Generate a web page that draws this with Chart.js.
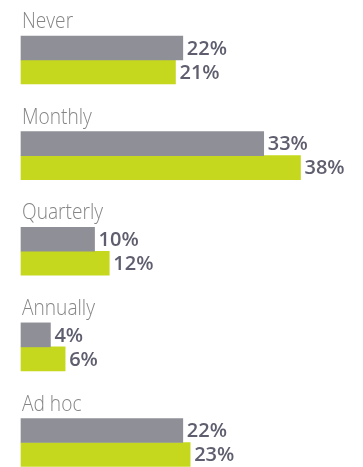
<!DOCTYPE html>
<html lang="en">
<head>
    <meta charset="UTF-8">
    <title>Review frequency</title>
    <script src="https://cdn.jsdelivr.net/npm/chart.js"></script>
    <style>
        body {
            margin: 0;
            background: #fff;
        }
        .wrap {
            width: 363px;
            height: 467px;
            position: relative;
        }
    </style>
</head>
<body>
    <div class="wrap">
        <canvas id="freqChart"></canvas>
    </div>

    <script>
        const categories = ['Never', 'Monthly', 'Quarterly', 'Annually', 'Ad hoc'];
        const seriesGray = [22, 33, 10, 4, 22];
        const seriesGreen = [21, 38, 12, 6, 23];

        const GRAY = '#8f8f98';
        const GREEN = '#c6d81e';

        // category names above each pair, percentages at the end of each bar
        const labelPlugin = {
            id: 'barLabels',
            afterDatasetsDraw(chart) {
                const ctx = chart.ctx;
                const yScale = chart.scales.y;
                ctx.save();

                ctx.fillStyle = '#858585';
                ctx.textBaseline = 'alphabetic';
                ctx.textAlign = 'left';
                ctx.font = '300 22px "Open Sans"';
                categories.forEach((name, i) => {
                    const y = yScale.getPixelForValue(i) - 24 - 8;
                    ctx.save();
                    ctx.translate(chart.chartArea.left + 1, y);
                    ctx.scale(0.87, 1);
                    ctx.fillText(name, 0, 0);
                    ctx.restore();
                });

                ctx.fillStyle = '#5e5e6e';
                ctx.font = '600 20px "Open Sans"';
                ctx.textBaseline = 'middle';
                chart.data.datasets.forEach((ds, di) => {
                    chart.getDatasetMeta(di).data.forEach((bar, i) => {
                        ctx.fillText(ds.data[i] + '%', bar.x + 4, bar.y + 1);
                    });
                });
                ctx.restore();
            }
        };

        new Chart(document.getElementById('freqChart'), {
            type: 'bar',
            data: {
                labels: categories,
                datasets: [
                    { data: seriesGray, backgroundColor: GRAY, barThickness: 24, clip: false },
                    { data: seriesGreen, backgroundColor: GREEN, barThickness: 24, clip: false }
                ]
            },
            options: {
                indexAxis: 'y',
                responsive: true,
                maintainAspectRatio: false,
                animation: false,
                layout: { padding: { left: 21, right: 0, top: 60, bottom: 24.5 } },
                scales: {
                    x: { display: false, min: 0, max: 46.5 },
                    y: { display: false, offset: false }
                },
                plugins: {
                    legend: { display: false },
                    tooltip: { enabled: false }
                }
            },
            plugins: [labelPlugin]
        });
    </script>
</body>
</html>
